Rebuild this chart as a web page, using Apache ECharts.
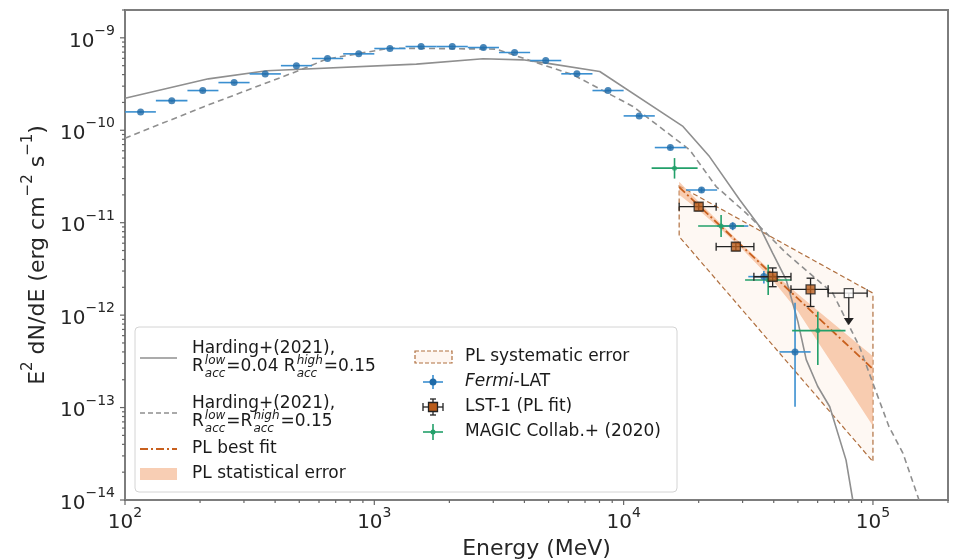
<!DOCTYPE html>
<html><head><meta charset="utf-8">
<script src="https://cdn.jsdelivr.net/npm/echarts@6/dist/echarts.min.js"></script>
<style>html,body{margin:0;padding:0;background:#fff}#c{width:958px;height:560px}</style>
</head><body><div id="c"></div>
<script>
// ---------------- data ----------------
// Fermi-LAT spectral points
const fermiE   = [115.5,154,205,274,365,487,649,866,1155,1540,2054,2738,3652,4870,6494,8660,11548,15399,20535,27384,36517,48697];
const fermiY   = [1.58e-10,2.09e-10,2.69e-10,3.28e-10,4.07e-10,5.0e-10,5.97e-10,6.71e-10,7.66e-10,8.05e-10,8.05e-10,7.85e-10,6.93e-10,5.68e-10,4.08e-10,2.69e-10,1.43e-10,6.5e-11,2.26e-11,9.2e-12,2.61e-12,4.0e-13];
const fermiXlo = [100,133,178,237,316,422,562,750,1000,1334,1778,2371,3162,4217,5623,7499,10000,13335,17783,23714,31623,42170];
const fermiXhi = [133,178,237,316,422,562,750,1000,1334,1778,2371,3162,4217,5623,7499,10000,13335,17783,23714,31623,42170,56234];
const fermiYlo = [1.54e-10,2.04e-10,2.63e-10,3.21e-10,3.99e-10,4.9e-10,5.85e-10,6.58e-10,7.5e-10,7.89e-10,7.89e-10,7.69e-10,6.79e-10,5.57e-10,4.0e-10,2.63e-10,1.39e-10,6.2e-11,2.12e-11,8.3e-12,2.2e-12,1.02e-13];
const fermiYhi = [1.62e-10,2.14e-10,2.75e-10,3.35e-10,4.15e-10,5.1e-10,6.09e-10,6.84e-10,7.82e-10,8.21e-10,8.21e-10,8.01e-10,7.07e-10,5.79e-10,4.16e-10,2.75e-10,1.47e-10,6.8e-11,2.4e-11,1.01e-11,3.0e-12,1.36e-12];

// MAGIC Collab.+ (2020)
const magicE   = [16000,24600,38000,60100];
const magicY   = [3.89e-11,9.2e-12,2.4e-12,6.8e-13];
const magicXlo = [12950,19900,30700,47400];
const magicXhi = [19800,30400,47000,77600];
const magicYlo = [3.0e-11,7.0e-12,1.65e-12,2.89e-13];
const magicYhi = [5.0e-11,1.21e-11,3.5e-12,1.09e-12];

// LST-1 (PL fit) flux points
const lstE   = [20000,28200,39600,56200];
const lstY   = [1.49e-11,5.5e-12,2.6e-12,1.9e-12];
const lstXlo = [16700,23500,33300,46900];
const lstXhi = [23500,33300,46900,66100];
const lstYlo = [1.35e-11,5.0e-12,2.03e-12,1.24e-12];
const lstYhi = [1.64e-11,6.05e-12,3.24e-12,2.51e-12];
// LST-1 upper limit
const ulE = [80000], ulY = [1.73e-12], ulXlo = [66100], ulXhi = [94800], ulArrowTo = [7.8e-13];

// Harding+(2021) models
const hardA_E = [100,216,370,1475,2730,3940,4900,8020,17300,22100,29200,35100,39600,44900,50000,54000,60000,67100,78000,83000];
const hardA_Y = [2.22e-10,3.6e-10,4.4e-10,5.19e-10,5.93e-10,5.78e-10,5.32e-10,4.32e-10,1.1e-10,5.19e-11,1.77e-11,9.08e-12,4.68e-12,2.4e-12,8.5e-13,3.3e-13,1.7e-13,1.02e-13,2.7e-14,1.0e-14];
const hardB_E = [100,206,487,643,1153,3083,4753,6270,10900,18400,23500,31000,44900,69000,88300,100000,116000,132000,153000];
const hardB_Y = [8.2e-11,1.79e-10,4.32e-10,5.88e-10,7.73e-10,7.55e-10,5.1e-10,3.98e-10,1.81e-10,6.14e-11,2.46e-11,1.27e-11,4.68e-12,1.73e-12,4.56e-13,1.83e-13,6.2e-14,3.2e-14,1.0e-14];

// PL best fit and its errors
const fitE = [16700,100000];
const fitY = [2.42e-11,2.61e-13];
const statE     = [16700,20000,25000,30000,40000,50000,60000,75000,100000];
const statUpper = [2.78e-11,1.68e-11,9.25e-12,5.75e-12,2.84e-12,1.69e-12,1.12e-12,6.8e-13,3.6e-13];
const statLower = [2.01e-11,1.37e-11,8.15e-12,5.13e-12,2.31e-12,1.1e-12,5.2e-13,2.07e-13,6.3e-14];
const sysE     = [16700,100000];
const sysUpper = [2.5e-11,1.73e-12];
const sysLower = [7.08e-12,2.6e-14];

// axis ticks
const xMajor = [1e2,1e3,1e4,1e5];
const xMinor = [2e2,3e2,4e2,5e2,6e2,7e2,8e2,9e2,2e3,3e3,4e3,5e3,6e3,7e3,8e3,9e3,2e4,3e4,4e4,5e4,6e4,7e4,8e4,9e4,2e5];
const yMajor = [1e-14,1e-13,1e-12,1e-11,1e-10,1e-9];
const yMinor = [2e-14,3e-14,4e-14,5e-14,6e-14,7e-14,8e-14,9e-14,2e-13,3e-13,4e-13,5e-13,6e-13,7e-13,8e-13,9e-13,
  2e-12,3e-12,4e-12,5e-12,6e-12,7e-12,8e-12,9e-12,2e-11,3e-11,4e-11,5e-11,6e-11,7e-11,8e-11,9e-11,
  2e-10,3e-10,4e-10,5e-10,6e-10,7e-10,8e-10,9e-10,2e-9];
const X_MIN = 100, X_MAX = 2e5, Y_MIN = 1e-14, Y_MAX = 2e-9;

// ---------------- styling ----------------
const FONT = '"DejaVu Sans", sans-serif';
const C_FERMI = '#1f6aa8', C_FERMI_BAR = '#3a8fd0';
const C_MAGIC = '#22a06a';
const C_LST = '#b95c1c';
const C_GRAY = '#8f8f8f';
const C_FIT = '#c8601e';
const C_STAT = 'rgba(244,180,140,0.65)';
const C_SYS = '#b07040';
const C_TXT = '#262626';

function powLabel(v){
  const l = Math.log10(v), e = Math.round(l);
  if (Math.abs(l - e) > 1e-6) return '';
  return '{b|10}{s|' + String(e).replace('-', '−') + '}';
}
const tickRich = {
  b: {fontSize: 20, fontFamily: FONT, color: C_TXT, verticalAlign: 'bottom', lineHeight: 27},
  s: {fontSize: 14, fontFamily: FONT, color: C_TXT, verticalAlign: 'top', lineHeight: 15}
};
const nameRich = {
  b: {fontSize: 22, fontFamily: FONT, color: C_TXT, verticalAlign: 'bottom', lineHeight: 28},
  s: {fontSize: 15, fontFamily: FONT, color: C_TXT, verticalAlign: 'top', lineHeight: 16}
};

function errSeries(name, E, Y, xlo, xhi, ylo, yhi, color, cap, lw, z){
  return {
    type: 'custom', name, z, clip: false,
    encode: {x: 0, y: 1},
    data: E.map((e, i) => [e, Y[i], xlo[i], xhi[i], ylo[i], yhi[i]]),
    renderItem(params, api){
      const x = api.value(0), y = api.value(1);
      const l = api.coord([api.value(2), y]), r = api.coord([api.value(3), y]);
      const b = api.coord([x, api.value(4)]), t = api.coord([x, api.value(5)]);
      const st = {stroke: color, lineWidth: lw};
      const ch = [
        {type: 'line', shape: {x1: l[0], y1: l[1], x2: r[0], y2: r[1]}, style: st},
        {type: 'line', shape: {x1: b[0], y1: b[1], x2: t[0], y2: t[1]}, style: st}
      ];
      if (cap) {
        ch.push({type: 'line', shape: {x1: l[0], y1: l[1]-cap, x2: l[0], y2: l[1]+cap}, style: st});
        ch.push({type: 'line', shape: {x1: r[0], y1: r[1]-cap, x2: r[0], y2: r[1]+cap}, style: st});
        ch.push({type: 'line', shape: {x1: b[0]-cap, y1: b[1], x2: b[0]+cap, y2: b[1]}, style: st});
        ch.push({type: 'line', shape: {x1: t[0]-cap, y1: t[1], x2: t[0]+cap, y2: t[1]}, style: st});
      }
      return {type: 'group', children: ch};
    }
  };
}

function polySeries(name, pts, style, z){
  return {
    type: 'custom', name, z, clip: true,
    data: [[pts[0][0], pts[0][1]]],
    encode: {x: 0, y: 1},
    renderItem(params, api){
      return {type: 'polygon', shape: {points: pts.map(p => api.coord(p))}, style};
    }
  };
}

function tickSeries(vals, isX, len){
  return {
    type: 'custom', z: 20, clip: false, silent: true,
    data: vals.map(v => isX ? [v, Y_MIN] : [X_MIN, v]),
    encode: {x: 0, y: 1},
    renderItem(params, api){
      const p = api.coord([api.value(0), api.value(1)]);
      const shape = isX ? {x1: p[0], y1: p[1], x2: p[0], y2: p[1] + len}
                        : {x1: p[0], y1: p[1], x2: p[0] - len, y2: p[1]};
      return {type: 'line', shape, style: {stroke: '#666', lineWidth: 1.2}};
    }
  };
}

const statPts = statE.map((e, i) => [e, statUpper[i]]).concat(statE.map((e, i) => [e, statLower[i]]).reverse());
const sysPts = [[sysE[0], sysUpper[0]], [sysE[1], sysUpper[1]], [sysE[1], sysLower[1]], [sysE[0], sysLower[0]]];

// ---------------- legend (graphic) ----------------
const mctx = document.createElement('canvas').getContext('2d');
function tw(t, size, italic){ mctx.font = (italic ? 'italic ' : '') + size + 'px "DejaVu Sans"'; return mctx.measureText(t).width; }
const LF = 17, SF = 12, LZ = 100;
function T(x, y, t, size, italic){
  return {type: 'text', x, y, z: LZ, style: {text: t, fill: '#1a1a1a', fontSize: size, fontFamily: FONT,
    fontStyle: italic ? 'italic' : 'normal', verticalAlign: 'middle', align: 'left'}};
}
function richLine(x, y, parts){
  const out = [];
  parts.forEach(p => {
    if (typeof p === 'string') { out.push(T(x, y, p, LF, false)); x += tw(p, LF, false); }
    else {
      out.push(T(x + 1, y - 6, p[0], SF, true));
      out.push(T(x + 1, y + 7, p[1], SF, true));
      x += Math.max(tw(p[0], SF, true), tw(p[1], SF, true)) + 2;
    }
  });
  return out;
}
function L(x1, y1, x2, y2, stroke, lw, dash){
  return {type: 'line', z: LZ, shape: {x1, y1, x2, y2}, style: {stroke, lineWidth: lw, lineDash: dash || null}};
}
const legend = [];
legend.push({type: 'rect', z: LZ - 1, shape: {x: 135, y: 327, width: 542, height: 165, r: 4},
  style: {fill: 'rgba(255,255,255,0.85)', stroke: '#d4d4d4', lineWidth: 1}});
const h1 = 140, h2 = 177, tx1 = 192;
legend.push(L(h1, 358, h2, 358, C_GRAY, 1.6));
legend.push(T(tx1, 349, 'Harding+(2021),', LF));
legend.push(...richLine(tx1, 367, ['R', ['low', 'acc'], '=0.04 R', ['high', 'acc'], '=0.15']));
legend.push(L(h1, 413, h2, 413, C_GRAY, 1.6, [5, 3]));
legend.push(T(tx1, 404, 'Harding+(2021),', LF));
legend.push(...richLine(tx1, 422, ['R', ['low', 'acc'], '=R', ['high', 'acc'], '=0.15']));
legend.push(L(h1, 449, h2, 449, C_FIT, 1.8, [8, 3, 2, 3]));
legend.push(T(tx1, 449, 'PL best fit', LF));
legend.push({type: 'rect', z: LZ, shape: {x: h1, y: 468, width: h2 - h1, height: 12}, style: {fill: C_STAT}});
legend.push(T(tx1, 474, 'PL statistical error', LF));
// column 2
const g1 = 415, g2 = 452, gc = 433, tx2 = 465;
legend.push({type: 'rect', z: LZ, shape: {x: g1, y: 351, width: g2 - g1, height: 12},
  style: {fill: 'rgba(250,220,200,0.25)', stroke: C_SYS, lineWidth: 1.2, lineDash: [4, 2]}});
legend.push(T(tx2, 357, 'PL systematic error', LF));
legend.push(L(gc - 10, 382, gc + 10, 382, C_FERMI_BAR, 1.6));
legend.push(L(gc, 375, gc, 389, C_FERMI_BAR, 1.6));
legend.push({type: 'circle', z: LZ, shape: {cx: gc, cy: 382, r: 3.5}, style: {fill: C_FERMI}});
legend.push(T(tx2, 382, 'Fermi', LF, true));
legend.push(T(tx2 + tw('Fermi', LF, true), 382, '-LAT', LF));
legend.push(L(gc - 10, 407, gc + 10, 407, '#222', 1.3));
legend.push(L(gc - 10, 403, gc - 10, 411, '#222', 1.3));
legend.push(L(gc + 10, 403, gc + 10, 411, '#222', 1.3));
legend.push(L(gc, 399, gc, 415, '#222', 1.3));
legend.push(L(gc - 3, 399, gc + 3, 399, '#222', 1.3));
legend.push(L(gc - 3, 415, gc + 3, 415, '#222', 1.3));
legend.push({type: 'rect', z: LZ, shape: {x: gc - 4.5, y: 402.5, width: 9, height: 9}, style: {fill: C_LST, stroke: '#222', lineWidth: 1.3}});
legend.push(T(tx2, 407, 'LST-1 (PL fit)', LF));
legend.push(L(gc - 10, 432, gc + 10, 432, C_MAGIC, 1.6));
legend.push(L(gc, 424, gc, 440, C_MAGIC, 1.6));
legend.push({type: 'circle', z: LZ, shape: {cx: gc, cy: 432, r: 2.5}, style: {fill: C_MAGIC}});
legend.push(T(tx2, 432, 'MAGIC Collab.+ (2020)', LF));

// ---------------- chart ----------------
const chart = echarts.init(document.getElementById('c'), null, {renderer: 'canvas'});
chart.setOption({
  animation: false,
  backgroundColor: '#fff',
  grid: {left: 125, right: 10, top: 10, bottom: 60, show: true, borderColor: '#7d7d7d', borderWidth: 2,
    backgroundColor: 'transparent', containLabel: false, outerBoundsMode: 'none'},
  xAxis: {type: 'log', logBase: 10, min: X_MIN, max: X_MAX,
    name: 'Energy (MeV)', nameLocation: 'middle', nameGap: 36,
    nameTextStyle: {color: C_TXT, fontSize: 22, fontFamily: FONT},
    axisLine: {show: false}, axisTick: {show: false}, splitLine: {show: false}, minorTick: {show: false},
    axisLabel: {margin: 6, formatter: powLabel, rich: tickRich}},
  yAxis: {type: 'log', logBase: 10, min: Y_MIN, max: Y_MAX,
    name: '{b|E}{s|2}{b| dN/dE (erg cm}{s|−2}{b| s}{s|−1}{b|)}', nameLocation: 'middle', nameGap: 72, nameRotate: 90,
    nameTextStyle: {rich: nameRich},
    axisLine: {show: false}, axisTick: {show: false}, splitLine: {show: false}, minorTick: {show: false},
    axisLabel: {margin: 10, formatter: powLabel, rich: tickRich}},
  series: [
    polySeries('PL systematic error', sysPts, {fill: 'rgba(250,215,190,0.18)', stroke: C_SYS, lineWidth: 1.2, lineDash: [5, 3]}, 1),
    polySeries('PL statistical error', statPts, {fill: C_STAT}, 2),
    {type: 'line', name: 'Harding solid', data: hardA_E.map((e, i) => [e, hardA_Y[i]]), showSymbol: false, z: 3,
      lineStyle: {color: C_GRAY, width: 1.6}},
    {type: 'line', name: 'Harding dashed', data: hardB_E.map((e, i) => [e, hardB_Y[i]]), showSymbol: false, z: 3,
      lineStyle: {color: C_GRAY, width: 1.6, type: [6, 4]}},
    {type: 'line', name: 'PL best fit', data: fitE.map((e, i) => [e, fitY[i]]), showSymbol: false, z: 4,
      lineStyle: {color: C_FIT, width: 1.8, type: [8, 3, 2, 3]}},
    errSeries('Fermi-LAT', fermiE, fermiY, fermiXlo, fermiXhi, fermiYlo, fermiYhi, C_FERMI_BAR, 0, 1.6, 5),
    {type: 'scatter', name: 'Fermi pts', data: fermiE.map((e, i) => [e, fermiY[i]]), symbol: 'circle', symbolSize: 7, z: 6,
      itemStyle: {color: C_FERMI}},
    errSeries('MAGIC', magicE, magicY, magicXlo, magicXhi, magicYlo, magicYhi, C_MAGIC, 0, 1.6, 5),
    {type: 'scatter', name: 'MAGIC pts', data: magicE.map((e, i) => [e, magicY[i]]), symbol: 'circle', symbolSize: 5, z: 6,
      itemStyle: {color: C_MAGIC}},
    errSeries('LST-1', lstE, lstY, lstXlo, lstXhi, lstYlo, lstYhi, '#222', 4, 1.3, 7),
    {type: 'scatter', name: 'LST pts', data: lstE.map((e, i) => [e, lstY[i]]), symbol: 'rect', symbolSize: 9, z: 8,
      itemStyle: {color: C_LST, borderColor: '#222', borderWidth: 1.3}},
    {type: 'custom', name: 'LST UL', z: 7, clip: false, encode: {x: 0, y: 1},
      data: ulE.map((e, i) => [e, ulY[i], ulXlo[i], ulXhi[i], ulArrowTo[i]]),
      renderItem(params, api){
        const x = api.value(0), y = api.value(1);
        const l = api.coord([api.value(2), y]), r = api.coord([api.value(3), y]);
        const c = api.coord([x, y]), e = api.coord([x, api.value(4)]);
        const st = {stroke: '#222', lineWidth: 1.3};
        return {type: 'group', children: [
          {type: 'line', shape: {x1: l[0], y1: l[1], x2: r[0], y2: r[1]}, style: st},
          {type: 'line', shape: {x1: l[0], y1: l[1]-4, x2: l[0], y2: l[1]+4}, style: st},
          {type: 'line', shape: {x1: r[0], y1: r[1]-4, x2: r[0], y2: r[1]+4}, style: st},
          {type: 'line', shape: {x1: c[0], y1: c[1], x2: e[0], y2: e[1] - 6}, style: st},
          {type: 'polygon', shape: {points: [[e[0]-5, e[1]-7], [e[0]+5, e[1]-7], [e[0], e[1]]]}, style: {fill: '#222'}}
        ]};
      }},
    {type: 'scatter', name: 'UL pt', data: ulE.map((e, i) => [e, ulY[i]]), symbol: 'rect', symbolSize: 9, z: 8,
      itemStyle: {color: '#fff', borderColor: '#222', borderWidth: 1.3}},
    tickSeries(xMajor, true, 5), tickSeries(xMinor, true, 3),
    tickSeries(yMajor, false, 5), tickSeries(yMinor, false, 3)
  ],
  graphic: legend
});
</script>
</body></html>
